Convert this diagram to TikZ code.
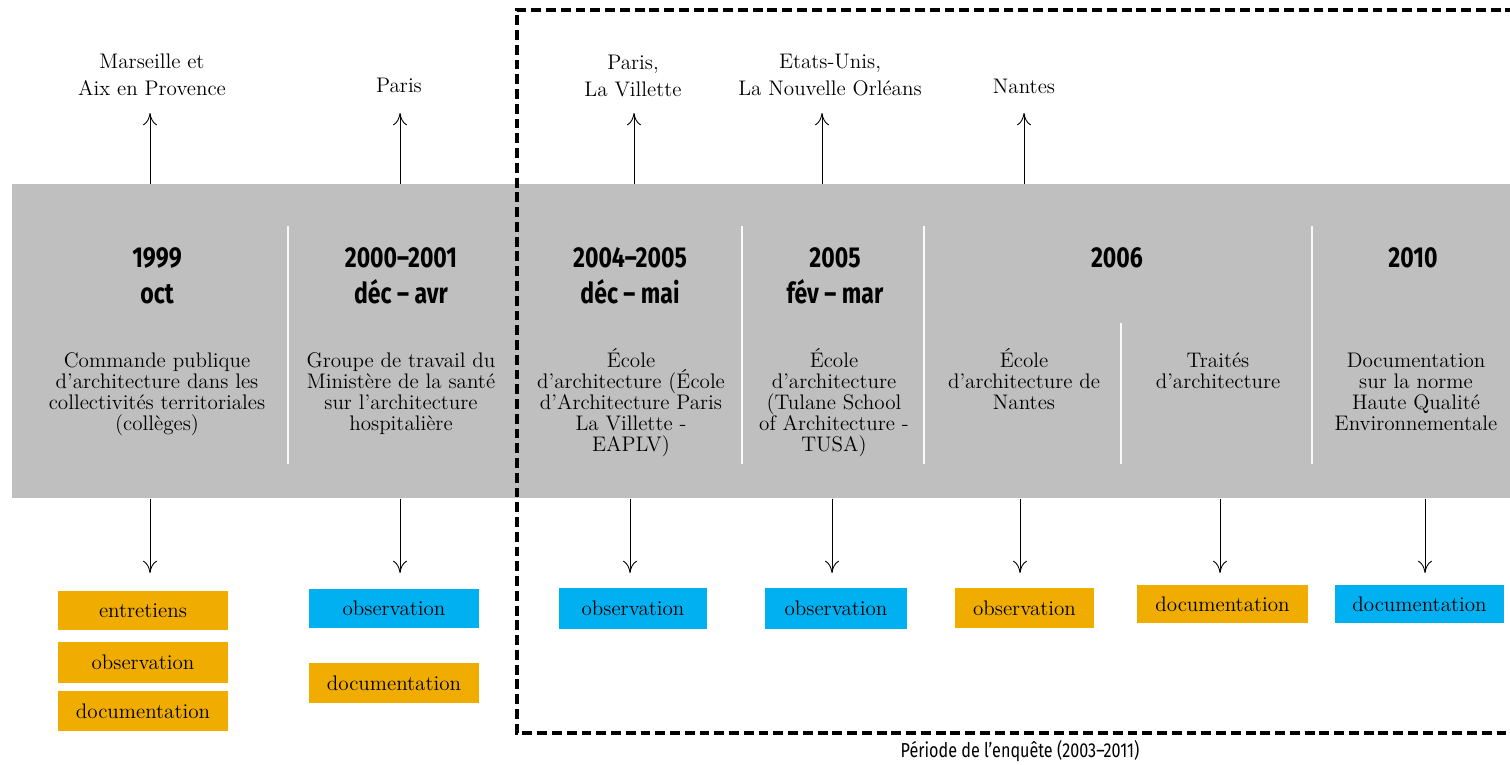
\documentclass[tikz,border=0pt]{standalone}
\usepackage{fontspec}
\newfontfamily\yrfont[FakeStretch=0.8]{Fira Sans}
\newfontfamily\enqfont[FakeStretch=0.8]{Fira Sans}
\usetikzlibrary{arrows.meta}
\definecolor{bandgray}{HTML}{BFBFBF}
\definecolor{boxorange}{HTML}{F0AD00}
\definecolor{boxblue}{HTML}{00B0F0}
\begin{document}
\begin{tikzpicture}[x=0.02cm,y=-0.02cm,
  bandnode/.style={fill=bandgray, draw=none, inner sep=0, anchor=north west,
    minimum width=29.96cm, minimum height=6.28cm},
  sepline/.style={draw=white!92!bandgray, line width=1.3pt},
  frame/.style={line width=1.8pt, dash pattern=on 5.6pt off 2.8pt},
  loc/.style={font=\fontsize{12}{15.3}\selectfont, align=center, inner sep=0, anchor=base},
  yr/.style={font=\yrfont\bfseries\fontsize{16.4}{20}\selectfont, inner sep=0, anchor=base},
  desc/.style={font=\fontsize{12}{11.9}\selectfont, align=center, inner sep=0, anchor=base},
  tag/.style={font=\fontsize{12}{14}\selectfont, inner sep=0, minimum height=0.8cm},
  obox/.style={tag, fill=boxorange},
  bbox/.style={tag, fill=boxblue},
  arr/.style={-{To[length=7pt,width=8pt]}, line width=0.5pt},
  enq/.style={font=\enqfont\fontsize{11.5}{13}\selectfont, inner sep=0, anchor=base}
]
\useasboundingbox (0,0) rectangle (1510,764);

% grey band
\node[bandnode] (band) at (12,184) {};
\draw[sepline] (288,226) -- (288,464);
\draw[sepline] (742,226) -- (742,464);
\draw[sepline] (924,226) -- (924,464);
\draw[sepline] (1312,226) -- (1312,464);
\draw[sepline] (1121,323) -- (1121,464);

% survey period frame
\draw[frame] (1530,10) -- (517,10) -- (517,733) -- (1530,733);
\node[enq] (period) at (1020,757) {Période de l’enquête (2003–2011)};

% locations (base = last line)
\node[loc] (l1) at (152,95) {Marseille et\\Aix en Provence};
\node[loc] (l2) at (399,92) {Paris};
\node[loc] (l3) at (633,96) {Paris,\\La Villette};
\node[loc] (l4) at (830,95) {Etats-Unis,\\La Nouvelle Orléans};
\node[loc] (l5) at (1024,93) {Nantes};

% years and months
\node[yr] (y1) at (157,267) {1999};
\node[yr] (m1) at (157,303) {oct};
\node[yr] (y2) at (401,267) {2000–2001};
\node[yr] (m2) at (401,303) {déc – avr};
\node[yr] (y3) at (630,267) {2004–2005};
\node[yr] (m3) at (630,303) {déc – mai};
\node[yr] (y4) at (835,267) {2005};
\node[yr] (m4) at (835,303) {fév – mar};
\node[yr] (y5) at (1117,267) {2006};
\node[yr] (y6) at (1413,267) {2010};

% descriptions (base = last line)
\node[desc] (d1) at (157,430) {Commande publique\\d’architecture dans les\\collectivités territoriales\\(collèges)};
\node[desc] (d2) at (401,430) {Groupe de travail du\\Ministère de la santé\\sur l’architecture\\hospitalière};
\node[desc] (d3) at (631,451) {École\\d’architecture (École\\d’Architecture Paris\\La Villette -\\EAPLV)};
\node[desc] (d4) at (834,451) {École\\d’architecture\\(Tulane School\\of Architecture -\\TUSA)};
\node[desc] (d5) at (1024,409) {École\\d’architecture de\\Nantes};
\node[desc] (d6) at (1218,388) {Traités\\d’architecture};
\node[desc] (d7) at (1416,430) {Documentation\\sur la norme\\Haute Qualité\\Environnementale};

% method boxes
\node[obox, minimum width=3.4cm, minimum height=0.78cm] (b1a) at (143,610.5) {entretiens};
\node[obox, minimum width=3.4cm, minimum height=0.82cm] (b1b) at (143,662.5) {observation};
\node[obox, minimum width=3.4cm] (b1c) at (143,711) {documentation};
\node[bbox, minimum width=3.4cm, minimum height=0.78cm] (b2a) at (394,608.5) {observation};
\node[obox, minimum width=3.4cm] (b2b) at (394,683) {documentation};
\node[bbox, minimum width=2.96cm, minimum height=0.82cm] (b3) at (633,608.5) {observation};
\node[bbox, minimum width=2.84cm, minimum height=0.82cm] (b4) at (836,608.5) {observation};
\node[obox, minimum width=2.78cm] (b5) at (1024.5,608) {observation};
\node[obox, minimum width=3.42cm, minimum height=0.76cm] (b6) at (1222.5,604) {documentation};
\node[bbox, minimum width=3.38cm, minimum height=0.76cm] (b7) at (1419.5,604) {documentation};

% arrow columns and tip lines
\coordinate (uptip) at (0,113);
\coordinate (downtip) at (0,573);
\coordinate (u1) at (150,0);
\coordinate (u2) at (400,0);
\coordinate (u3) at (634,0);
\coordinate (u4) at (822,0);
\coordinate (u5) at (1024,0);
\coordinate (v1) at (150,0);
\coordinate (v2) at (400,0);
\coordinate (v3) at (630,0);
\coordinate (v4) at (832,0);
\coordinate (v5) at (1020,0);
\coordinate (v6) at (1220,0);
\coordinate (v7) at (1425,0);

% upward arrows (band -> places)
\foreach \n in {u1,u2,u3,u4,u5}
  \draw[arr] (\n |- band.north) -- (\n |- uptip);

% downward arrows (band -> methods)
\foreach \n in {v1,v2,v3,v4,v5,v6,v7}
  \draw[arr] (\n |- band.south) -- (\n |- downtip);
\end{tikzpicture}
\end{document}
